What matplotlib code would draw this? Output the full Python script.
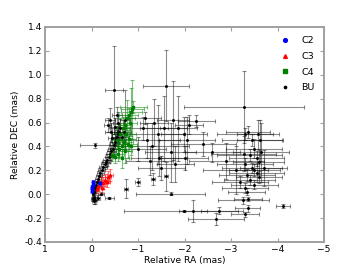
import numpy as np
import matplotlib
matplotlib.use('Agg')
import matplotlib.pyplot as plt

# BU component: x, y (mas) and their errors
bu_x = [-0.03, -0.05, -0.07, -0.06, -0.04, -0.05, -0.07, -0.08, -0.10, -0.12,
        -0.14, -0.16, -0.19, -0.22, -0.25, -0.28, -0.31, -0.34, -0.37, -0.40,
        -0.43, -0.46, -0.48, -0.50, -0.52, -0.55, -0.57, -0.60, -0.45, -0.42,
        -0.50, -0.58, -0.62, -0.66, -0.70, -0.55, -0.72, -0.40, -0.35,
        -0.20, -0.38, -0.13,
        -0.08, -0.48, -0.74, -0.99, -1.32, -1.60, -1.70, -1.98, -2.18, -2.68,
        -2.75, -3.26, -3.37, -3.36, -4.12, -3.30,
        -1.60, -3.28, -1.75, -1.87, -2.25, -1.42, -1.55, -1.99, -2.05, -1.20,
        -1.30, -1.10, -1.00, -2.40, -2.60,
        -3.62, -3.58, -3.37, -3.30, -3.45, -3.50, -3.40, -3.55, -3.60, -3.30,
        -3.45, -3.50, -3.55, -3.35, -3.60, -3.40, -3.20, -3.50, -3.30, -3.10,
        -3.70, -2.90, -3.65, -3.34, -3.27,
        -1.45, -1.70, -1.50, -1.25, -1.80, -2.00, -1.35, -1.15, -2.10]
bu_y = [-0.04, -0.06, -0.05, -0.02, 0.00, 0.02, 0.04, 0.06, 0.08, 0.10,
        0.13, 0.15, 0.18, 0.20, 0.23, 0.25, 0.27, 0.29, 0.31, 0.34,
        0.36, 0.38, 0.41, 0.44, 0.46, 0.48, 0.50, 0.52, 0.47, 0.52,
        0.56, 0.60, 0.55, 0.48, 0.52, 0.66, 0.62, 0.62, 0.58,
        0.005, -0.03, -0.03,
        0.41, 0.87, 0.045, 0.10, 0.13, 0.15, 0.005, -0.14, -0.14, -0.21,
        -0.14, -0.05, -0.04, -0.12, -0.10, -0.17,
        0.91, 0.73, 0.62, 0.55, 0.61, 0.50, 0.55, 0.50, 0.45, 0.45,
        0.40, 0.55, 0.38, 0.42, 0.35,
        0.45, 0.50, 0.52, 0.50, 0.45, 0.38, 0.33, 0.30, 0.27, 0.25,
        0.22, 0.20, 0.18, 0.16, 0.14, 0.12, 0.10, 0.08, 0.05, 0.20,
        0.22, 0.28, 0.35, 0.02, 0.34,
        0.30, 0.35, 0.22, 0.28, 0.25, 0.30, 0.60, 0.64, 0.58]
bu_xerr = [0.04, 0.05, 0.04, 0.05, 0.04, 0.05, 0.05, 0.05, 0.06, 0.06,
           0.06, 0.07, 0.07, 0.07, 0.08, 0.08, 0.08, 0.09, 0.09, 0.09,
           0.10, 0.10, 0.10, 0.10, 0.11, 0.11, 0.12, 0.12, 0.10, 0.12,
           0.12, 0.12, 0.13, 0.14, 0.15, 0.10, 0.10, 0.10, 0.08,
           0.07, 0.10, 0.05,
           0.32, 0.20, 0.05, 0.05, 0.05, 0.05, 0.75, 1.28, 0.30, 0.60,
           0.40, 0.55, 0.30, 0.27, 0.15, 0.30,
           0.50, 1.30, 0.35, 0.40, 0.40, 0.60, 0.50, 0.50, 0.60, 0.70,
           0.80, 0.55, 0.60, 0.70, 0.60,
           0.50, 0.45, 0.47, 0.60, 0.65, 0.60, 0.70, 0.60, 0.55, 0.60,
           0.65, 0.55, 0.60, 0.60, 0.50, 0.55, 0.60, 0.50, 0.50, 0.70,
           0.50, 0.80, 0.60, 0.40, 0.70,
           0.60, 0.55, 0.50, 0.50, 0.40, 0.50, 0.30, 0.35, 0.30]
bu_yerr = [0.02, 0.02, 0.03, 0.03, 0.03, 0.03, 0.03, 0.03, 0.03, 0.03,
           0.03, 0.04, 0.04, 0.04, 0.04, 0.04, 0.04, 0.05, 0.05, 0.05,
           0.05, 0.05, 0.06, 0.06, 0.06, 0.06, 0.07, 0.07, 0.08, 0.08,
           0.08, 0.09, 0.08, 0.08, 0.10, 0.07, 0.25, 0.10, 0.06,
           0.01, 0.01, 0.02,
           0.02, 0.37, 0.08, 0.035, 0.05, 0.12, 0.01, 0.01, 0.09, 0.05,
           0.03, 0.03, 0.02, 0.03, 0.02, 0.02,
           0.30, 0.30, 0.33, 0.27, 0.05, 0.25, 0.27, 0.15, 0.20, 0.15,
           0.20, 0.10, 0.10, 0.10, 0.08,
           0.17, 0.12, 0.05, 0.05, 0.05, 0.08, 0.05, 0.06, 0.10, 0.05,
           0.04, 0.05, 0.08, 0.05, 0.05, 0.04, 0.05, 0.04, 0.04, 0.20,
           0.15, 0.15, 0.25, 0.03, 0.15,
           0.15, 0.25, 0.10, 0.12, 0.15, 0.10, 0.20, 0.05, 0.08]

# C4 component
c4_x = [-0.90, -0.88, -0.86, -0.80, -0.76, -0.82, -0.72, -0.68, -0.75, -0.62,
        -0.80, -0.70, -0.55, -0.65, -0.60, -0.72, -0.58, -0.50, -0.66, -0.45,
        -0.85, -0.78]
c4_y = [0.73, 0.71, 0.69, 0.66, 0.64, 0.60, 0.58, 0.55, 0.50, 0.50,
        0.46, 0.44, 0.45, 0.40, 0.38, 0.36, 0.34, 0.31, 0.30, 0.33,
        0.40, 0.42]
c4_xerr = [0.29, 0.25, 0.22, 0.20, 0.18, 0.15, 0.15, 0.15, 0.20, 0.12,
           0.15, 0.20, 0.10, 0.18, 0.15, 0.15, 0.12, 0.10, 0.15, 0.08,
           0.12, 0.20]
c4_yerr = [0.05, 0.25, 0.20, 0.06, 0.15, 0.10, 0.08, 0.10, 0.08, 0.08,
           0.10, 0.08, 0.06, 0.08, 0.07, 0.10, 0.06, 0.05, 0.08, 0.05,
           0.07, 0.12]

# C3 component
c3_x = [-0.12, -0.15, -0.20, -0.22, -0.25, -0.30, -0.33, -0.35, -0.40]
c3_y = [0.04, 0.07, 0.10, 0.05, 0.09, 0.12, 0.10, 0.14, 0.16]
c3_xerr = [0.04, 0.05, 0.06, 0.05, 0.06, 0.07, 0.06, 0.07, 0.06]
c3_yerr = [0.03, 0.04, 0.04, 0.04, 0.05, 0.05, 0.04, 0.05, 0.05]

# C2 component
c2_x = [-0.01, -0.02, -0.03, -0.02, -0.04, -0.18]
c2_y = [0.04, 0.06, 0.08, 0.03, 0.10, 0.09]
c2_xerr = [0.02, 0.02, 0.02, 0.02, 0.02, 0.03]
c2_yerr = [0.02, 0.02, 0.02, 0.02, 0.02, 0.02]

plt.rcParams['font.size'] = 6.6

fig = plt.figure(figsize=(3.6, 2.7), dpi=100)
ax = fig.add_axes([0.125, 0.104, 0.775, 0.796])

ekw = dict(fmt='none', elinewidth=0.8, capsize=1.5, capthick=0.8)
ax.errorbar(bu_x, bu_y, xerr=bu_xerr, yerr=bu_yerr, ecolor='k', alpha=0.45, **ekw)
ax.errorbar(c4_x, c4_y, xerr=c4_xerr, yerr=c4_yerr, ecolor='g', alpha=0.5, **ekw)
ax.errorbar(c3_x, c3_y, xerr=c3_xerr, yerr=c3_yerr, ecolor='r', alpha=0.5, **ekw)
ax.errorbar(c2_x, c2_y, xerr=c2_xerr, yerr=c2_yerr, ecolor='b', alpha=0.5, **ekw)

h_bu, = ax.plot(bu_x, bu_y, 'k.', markersize=2.2, linestyle='')
h_c4, = ax.plot(c4_x, c4_y, 's', color='g', markersize=1.8, linestyle='', mec='g')
h_c3, = ax.plot(c3_x, c3_y, '^', color='r', markersize=1.8, linestyle='', mec='r')
h_c2, = ax.plot(c2_x, c2_y, 'o', color='b', markersize=1.8, linestyle='', mec='b')

ax.legend([h_c2, h_c3, h_c4, h_bu], ['C2', 'C3', 'C4', 'BU'], loc='upper right',
          frameon=False, numpoints=1, handlelength=1.2, handletextpad=1.1,
          labelspacing=0.7, borderaxespad=0.6, markerscale=1.5, fontsize=6.8)

ax.set_xlim(1, -5)
ax.set_ylim(-0.4, 1.4)
ax.set_xticks([1, 0, -1, -2, -3, -4, -5])
ax.set_yticks(np.arange(-0.4, 1.41, 0.2))
ax.set_yticklabels(['%.1f' % v if abs(v) > 1e-9 else '0.0'
                    for v in np.arange(-0.4, 1.41, 0.2)])
ax.set_xlabel('Relative RA (mas)', labelpad=2)
ax.set_ylabel('Relative DEC (mas)', labelpad=3)

for sp in ax.spines.values():
    sp.set_color('#a0a0a0')
    sp.set_linewidth(1.4)
ax.tick_params(direction='in', top=True, right=True, length=3, width=0.8,
               color='#a0a0a0', labelcolor='k', pad=2)

fig.savefig('out.png', dpi=100)
